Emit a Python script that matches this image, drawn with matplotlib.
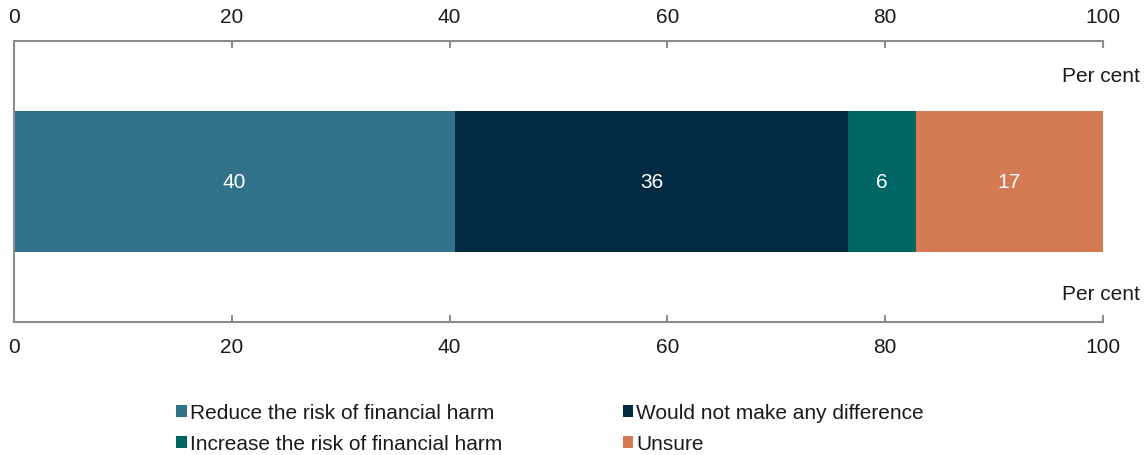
import matplotlib.pyplot as plt
from matplotlib.patches import Patch

plt.rcParams['font.family'] = ['Liberation Sans', 'DejaVu Sans']

categories = ['Reduce the risk of financial harm', 'Would not make any difference',
              'Increase the risk of financial harm', 'Unsure']
values = [40.5, 36.1, 6.2, 17.2]
labels = ['40', '36', '6', '17']
colors = ['#31718A', '#022B43', '#006663', '#D57B54']
xticks = [0, 20, 40, 60, 80, 100]

fs = 15
fig = plt.figure(figsize=(11.47, 4.56), dpi=100)
ax = fig.add_axes([14 / 1147, 1 - 323 / 456, 1089 / 1147, 281 / 456])

left = 0
for v, lab, c in zip(values, labels, colors):
    ax.barh(0.5, v, left=left, height=0.5, color=c)
    ax.text(left + v / 2, 0.5, lab, ha='center', va='center', color='white', fontsize=fs)
    left += v

ax.set_xlim(0, 100)
ax.set_ylim(0, 1)
ax.set_xticks(xticks)
ax.set_yticks([])
ax.tick_params(axis='x', direction='in', length=5, width=1.5, color='#8c8c8c',
               top=True, labeltop=True, bottom=True, labelbottom=True,
               pad=11, labelsize=fs, labelcolor='#1a1a1a')
for s in ['top', 'bottom', 'left']:
    ax.spines[s].set_color('#8c8c8c')
    ax.spines[s].set_linewidth(1.5)
ax.spines['right'].set_visible(False)

ax.text(1.034, 0.879, 'Per cent', transform=ax.transAxes, ha='right', va='center',
        fontsize=fs, color='#1a1a1a', clip_on=False)
ax.text(1.034, 0.103, 'Per cent', transform=ax.transAxes, ha='right', va='center',
        fontsize=fs, color='#1a1a1a', clip_on=False)

# legend fills column by column, so reorder to get the two-row layout
order = [0, 2, 1, 3]
handles = [Patch(facecolor=colors[i], edgecolor='none') for i in order]
leg_labels = [categories[i] for i in order]
fig.legend(handles, leg_labels, loc='upper left', bbox_to_anchor=(168 / 1147, 1 - 396 / 456),
           ncol=2, frameon=False, fontsize=fs, handlelength=0.5, handleheight=0.5,
           handletextpad=0.15, columnspacing=5.8, labelspacing=0.58, borderaxespad=0,
           labelcolor='#1a1a1a')

fig.savefig('out.png', dpi=100)
